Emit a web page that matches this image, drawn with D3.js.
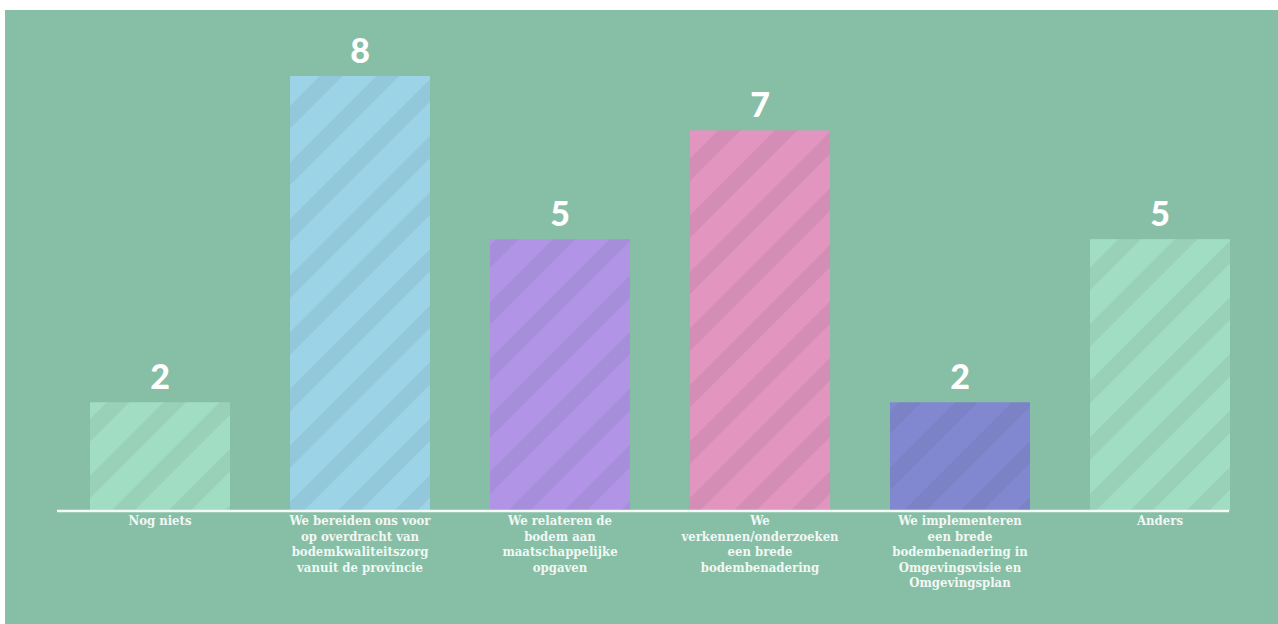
<!DOCTYPE html>
<html>
<head>
<meta charset="utf-8">
<script src="https://cdn.jsdelivr.net/npm/d3@7"></script>
<style>
  html, body { margin: 0; padding: 0; background: #ffffff; }
  svg { display: block; }
</style>
</head>
<body>
<div id="chart"></div>
<script>
var w = 1278;
var h = 624;

var categories = ["Nog niets", "Voorbereiden", "Relateren", "Verkennen", "Implementeren", "Anders"];
var values = [2, 8, 5, 7, 2, 5];
var labelLines = [
  ["Nog niets"],
  ["We bereiden ons voor", "op overdracht van", "bodemkwaliteitszorg", "vanuit de provincie"],
  ["We relateren de", "bodem aan", "maatschappelijke", "opgaven"],
  ["We", "verkennen/onderzoeken", "een brede", "bodembenadering"],
  ["We implementeren", "een brede", "bodembenadering in", "Omgevingsvisie en", "Omgevingsplan"],
  ["Anders"]
];
var barColors = ["#a1ddc2", "#9cd3e6", "#b294e7", "#e295be", "#8288d0", "#a1ddc2"];

var baseY = 511;

var svg = d3.select("#chart")
            .append("svg")
            .attr("width", w)
            .attr("height", h);

// background panel
svg.append("rect")
   .attr("x", 5)
   .attr("y", 10)
   .attr("width", w - 5)
   .attr("height", h - 10)
   .attr("fill", "#86bfa6");

var xScale = d3.scaleBand()
               .domain(categories)
               .range([60, 1260])
               .paddingInner(0.3)
               .paddingOuter(0.15);

var yScale = d3.scaleLinear()
               .domain([0, 8])
               .range([baseY, 76]);

// striped patterns, one per bar colour
var defs = svg.append("defs");
barColors.forEach(function(c, i) {
  var p = defs.append("pattern")
              .attr("id", "stripe" + i)
              .attr("patternUnits", "userSpaceOnUse")
              .attr("width", 40)
              .attr("height", 40)
              .attr("patternTransform", "rotate(45)");
  p.append("rect")
   .attr("width", 40)
   .attr("height", 40)
   .attr("fill", c);
  p.append("rect")
   .attr("width", 16)
   .attr("height", 40)
   .attr("fill", "#1a3a40")
   .attr("fill-opacity", 0.07);
});

svg.append("g")
   .selectAll("rect")
   .data(values)
   .enter()
   .append("rect")
   .attr("x", function(d, i) { return xScale(categories[i]); })
   .attr("y", function(d) { return yScale(d); })
   .attr("width", xScale.bandwidth())
   .attr("height", function(d) { return baseY - yScale(d); })
   .attr("fill", function(d, i) { return "url(#stripe" + i + ")"; });

// value labels
svg.append("g")
   .selectAll("text")
   .data(values)
   .enter()
   .append("text")
   .attr("x", function(d, i) { return xScale(categories[i]) + xScale.bandwidth() / 2; })
   .attr("y", function(d) { return yScale(d) - 13; })
   .attr("text-anchor", "middle")
   .attr("font-family", "Lato, 'Open Sans', sans-serif")
   .attr("font-weight", "900")
   .attr("font-size", 34)
   .attr("fill", "#ffffff")
   .text(function(d) { return d; });

// baseline
svg.append("line")
   .attr("x1", 57)
   .attr("x2", 1229)
   .attr("y1", baseY)
   .attr("y2", baseY)
   .attr("stroke", "#f4f8f6")
   .attr("stroke-width", 2.5);

// category labels
var cat = svg.append("g")
   .selectAll("text")
   .data(labelLines)
   .enter()
   .append("text")
   .attr("text-anchor", "middle")
   .attr("font-family", "'DejaVu Serif Condensed', 'DejaVu Serif', serif")
   .attr("font-weight", "bold")
   .attr("font-size", 13)
   .attr("fill", "#f2f7f4");

cat.selectAll("tspan")
   .data(function(d, i) { return d.map(function(t) { return {t: t, i: i}; }); })
   .enter()
   .append("tspan")
   .attr("x", function(d) { return xScale(categories[d.i]) + xScale.bandwidth() / 2; })
   .attr("y", function(d, j) { return 525 + j * 15.5; })
   .text(function(d) { return d.t; });
</script>
</body>
</html>
